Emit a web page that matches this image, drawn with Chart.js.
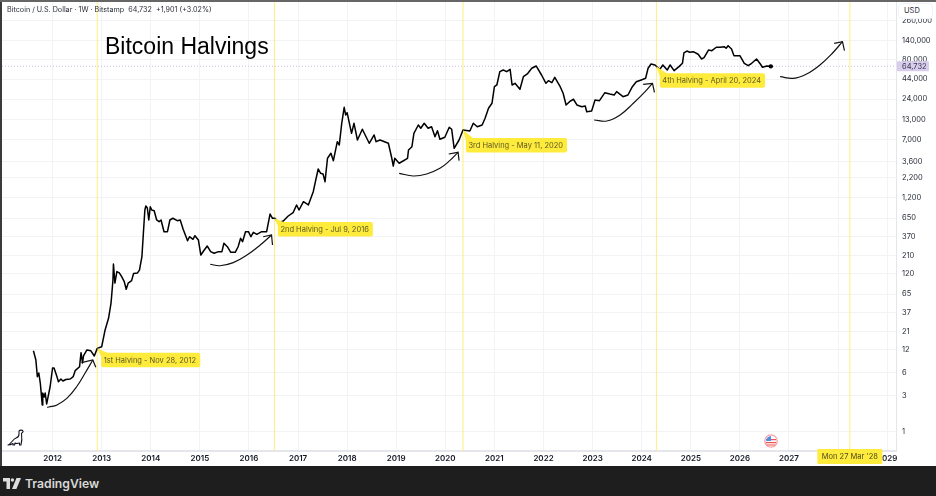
<!DOCTYPE html>
<html><head><meta charset="utf-8">
<script src="https://cdn.jsdelivr.net/npm/chart.js@4"></script>
<style>
html,body{margin:0;padding:0;background:#fff;width:936px;height:496px;overflow:hidden}
#wrap{position:relative;width:936px;height:496px;font-family:Inter,"Liberation Sans",sans-serif;filter:blur(0.3px)}
canvas{position:absolute;left:0;top:0}
.ov{position:absolute;white-space:nowrap}
#footer{position:absolute;left:0;top:466px;width:936px;height:30px;background:#1e1e1e}
#edgeL{position:absolute;left:0;top:0;width:2px;height:466px;background:#3a3a3a}
#edgeT{position:absolute;left:0;top:0;width:936px;height:2px;background:#666}
</style></head><body>
<div id="wrap">
<canvas id="c" width="936" height="496"></canvas>
<div id="edgeL"></div><div id="edgeT"></div>
<div class="ov" style="left:7px;top:5px;font-size:7.2px;line-height:10px;color:#2a2e39">Bitcoin / U.S. Dollar · 1W · Bitstamp&nbsp; 64,732&nbsp; +1,901 (+3.02%)</div>
<div class="ov" style="left:105px;top:33px;font-family:'Liberation Sans',sans-serif;font-size:23px;line-height:27px;color:#000">Bitcoin Halvings</div>
<div class="ov" style="left:898px;top:3px;width:35px;height:16px;box-sizing:border-box;background:#fff;border:1px solid #f0f3fa;border-radius:4px;font-size:7.5px;line-height:14px;padding-left:5px;color:#2a2e39">USD</div>
<svg class="ov" style="left:6px;top:428px" width="20" height="20" viewBox="0 0 20 20" fill="none" stroke="#131722" stroke-width="1.1" stroke-linejoin="round" stroke-linecap="round">
<path d="M2 17 C5 16 7 11 10 10 C12 9.5 13 9 13 6 L13 3.5 C13 2 16 1.6 17 3 C17.5 4 16 5 15.5 5.2 C16 9 16 13 15 17 L13.5 17 L13.5 15 C12 15.5 10 15.5 9 15 L8.5 17 L7 17 L7 15.5 C5 16.6 3.5 17 2 17 Z"/></svg>
<svg class="ov" style="left:764px;top:434px" width="14" height="14" viewBox="0 0 14 14">
<circle cx="7" cy="7" r="6.2" fill="#fff" stroke="#f7a0a8" stroke-width="1.3"/>
<path d="M2 5 h10 v1.2 h-10z M2 8 h10 v1.2 h-10z M3 10.5 h8 v1 h-8z" fill="#ef5350"/>
<path d="M7 2 A5 5 0 0 0 2.2 7 L7 7 Z" fill="#4a90e2"/></svg>
<div id="footer"></div>
<svg class="ov" style="left:3px;top:478px" width="18" height="11" viewBox="0 0 18 11" fill="#ddd">
<path d="M0 0 H7 V11 H3.5 V3.6 H0 Z"/><circle cx="9.4" cy="2" r="1.7"/><path d="M13.5 0 H18 L13.4 11 H9 Z"/></svg>
<div class="ov" style="left:25px;top:475px;font-size:12.2px;line-height:18px;font-weight:600;color:#d8d8d8">TradingView</div>
</div>
<script>
const years=[2011.61,2011.66,2011.69,2011.72,2011.75,2011.79,2011.80,2011.83,2011.85,2011.88,2011.95,2012.00,2012.03,2012.09,2012.12,2012.17,2012.21,2012.27,2012.36,2012.42,2012.46,2012.55,2012.58,2012.61,2012.63,2012.70,2012.78,2012.85,2012.91,2013.00,2013.07,2013.14,2013.19,2013.20,2013.23,2013.24,2013.27,2013.31,2013.36,2013.41,2013.46,2013.50,2013.54,2013.61,2013.65,2013.73,2013.77,2013.82,2013.85,2013.88,2013.90,2013.93,2013.96,2013.99,2014.02,2014.07,2014.12,2014.17,2014.21,2014.27,2014.34,2014.39,2014.45,2014.54,2014.60,2014.66,2014.75,2014.79,2014.86,2014.90,2014.97,2015.02,2015.09,2015.15,2015.22,2015.29,2015.38,2015.45,2015.49,2015.56,2015.63,2015.72,2015.78,2015.83,2015.87,2015.93,2015.99,2016.04,2016.09,2016.16,2016.26,2016.36,2016.43,2016.48,2016.53,2016.60,2016.70,2016.80,2016.90,2016.97,2017.02,2017.11,2017.21,2017.31,2017.41,2017.46,2017.51,2017.55,2017.60,2017.67,2017.72,2017.80,2017.84,2017.89,2017.94,2017.97,2018.00,2018.09,2018.14,2018.21,2018.31,2018.45,2018.55,2018.59,2018.67,2018.84,2018.91,2018.94,2018.97,2019.06,2019.23,2019.25,2019.32,2019.36,2019.45,2019.50,2019.57,2019.65,2019.72,2019.79,2019.84,2019.89,2019.99,2020.08,2020.13,2020.18,2020.28,2020.36,2020.50,2020.57,2020.65,2020.75,2020.81,2020.88,2020.95,2021.00,2021.05,2021.11,2021.18,2021.25,2021.32,2021.36,2021.42,2021.52,2021.59,2021.67,2021.76,2021.85,2021.96,2022.05,2022.10,2022.17,2022.23,2022.34,2022.40,2022.46,2022.53,2022.61,2022.68,2022.78,2022.85,2022.88,2022.98,2023.05,2023.14,2023.25,2023.35,2023.44,2023.49,2023.62,2023.72,2023.81,2023.89,2023.99,2024.08,2024.13,2024.19,2024.27,2024.37,2024.43,2024.52,2024.58,2024.66,2024.76,2024.83,2024.86,2024.92,2024.98,2025.05,2025.15,2025.22,2025.27,2025.36,2025.43,2025.52,2025.60,2025.68,2025.72,2025.76,2025.83,2025.88,2026.00,2026.09,2026.17,2026.24,2026.34,2026.42,2026.46,2026.55,2026.63];
const prices=[11.7,8.86,5.34,5.97,4.41,2.27,3.26,2.89,3.26,2.34,3.94,6.95,6.95,5.34,4.59,4.98,4.69,4.91,4.98,5.34,6.41,7.23,11.05,8.09,10,12,11.7,10,12.6,13.2,22,31.3,49.4,58,100,162,91,129,124,110,95,75.5,91,98,122,124,135,203,415,834,941,886,616,921,834,816,616,585,616,432,432,616,649,603,616,465,329,371,343,383,336,213,248,280,236,225,236,236,304,274,231,231,274,354,319,432,432,371,424,399,432,432,738,649,649,568,597,695,769,970,834,1072,970,1452,2889,2535,2483,1965,3993,4645,3715,6607,5970,11530,18710,14830,15890,8511,11530,6950,9616,6295,8090,6607,6950,6295,3993,3162,3993,3436,3993,5136,5675,8511,10950,9908,11530,9908,10400,7691,9204,7096,7551,10210,9616,5408,6950,9419,9141,11530,10400,10950,13420,18160,21130,34930,36810,55080,57940,55080,59160,36810,38730,32290,47320,51400,61090,65460,49800,38730,41880,39450,46450,34930,28640,20090,22180,23880,20090,19070,19470,16370,16750,23350,22860,29130,28000,27180,30060,25820,27180,34930,40640,42850,45080,61090,69500,67450,59160,67450,57940,67450,56750,64120,71000,97000,103000,99100,100900,93300,80900,84100,106000,104000,115400,115400,117500,111900,121000,109500,89400,89400,71000,66070,71000,80900,68900,62950,65460,64732];
const lastPrice=64732;
const priceTicks=[260000,140000,80000,44000,24000,13000,7000,3600,2200,1200,650,370,210,120,65,37,21,12,6,3,1];
const yearTicks=[2012,2013,2014,2015,2016,2017,2018,2019,2020,2021,2022,2023,2024,2025,2026,2027,2028,2029];
const halvingYears=[2012.91,2016.52,2020.36,2024.30];
const projectedYear=2028.24;
const halvingTexts=["1st Halving - Nov 28, 2012","2nd Halving - Jul 9, 2016","3rd Halving - May 11, 2020","4th Halving - April 20, 2024"];
const calloutYears=[2012.99,2016.59,2020.42,2024.37];
const calloutPrices=[11.05,579,7380,52480];
const tailPrices=[12.6,649,9419,65000];
const dateTag="Mon 27 Mar '28";
const arrowYears=[
 [2011.89,2011.98,2012.09,2012.29,2012.49,2012.66,2012.82],
 [2015.21,2015.41,2015.68,2015.96,2016.23,2016.46],
 [2019.06,2019.35,2019.62,2019.89,2020.09,2020.26],
 [2023.03,2023.29,2023.56,2023.83,2024.07,2024.22],
 [2026.82,2027.09,2027.36,2027.63,2027.87,2028.09]];
const arrowPrices=[
 [2.11,2.17,2.27,2.77,3.94,5.92,8.86],
 [161,154,169,213,289,391],
 [2535,2335,2483,2951,3715,4786],
 [12740,12360,14830,21130,30060,38730],
 [47320,45080,51400,67450,94200,136700]];
const headYears=[[2012.59,2012.82,2012.88],[2016.29,2016.46,2016.48],[2020.07,2020.26,2020.28],[2024.03,2024.22,2024.26],[2027.92,2028.09,2028.13]];
const headPrices=[[8.17,8.86,7.1],[371,391,289],[4550,4786,3715],[37580,38730,29510],[130100,136700,104000]];
const xMin=2010.97,xMax=2029.18,yMin=0.5623,yMax=454700;

const toXY=(xs,ys)=>xs.map((x,i)=>({x,y:ys[i]}));
const noPad=s=>{s.paddingTop=0;s.paddingBottom=0;s.paddingLeft=0;s.paddingRight=0};
const datasets=[];
datasets.push({data:toXY([xMin,xMax],[lastPrice,lastPrice]),borderColor:'#c9c4e4',borderWidth:1,borderDash:[1,2],pointRadius:0,order:5});
[...halvingYears,projectedYear].forEach(h=>datasets.push({data:toXY([h,h],[yMin,yMax]),borderColor:'#ffee80',borderWidth:1,pointRadius:0,order:4}));
datasets.push({data:toXY(years,prices),borderColor:'#000',borderWidth:1.5,pointRadius:c=>c.dataIndex===years.length-1?2.2:0,pointBackgroundColor:'#000',pointBorderWidth:0,tension:0,borderJoinStyle:'round',order:1});
arrowYears.forEach((a,i)=>{
 datasets.push({data:toXY(a,arrowPrices[i]),borderColor:'#111',borderWidth:1.2,pointRadius:0,tension:0.4,order:2});
 datasets.push({data:toXY(headYears[i],headPrices[i]),borderColor:'#111',borderWidth:1.2,pointRadius:0,tension:0,order:2});
});
const overlay={id:'overlay',afterDraw(ch){
 const g=ch.ctx,X=ch.scales.x,Y=ch.scales.y;
 g.save();
 g.font='7.5px Inter,sans-serif';g.textBaseline='middle';g.textAlign='left';
 halvingTexts.forEach((t,i)=>{
  const l=X.getPixelForValue(calloutYears[i]),top=Y.getPixelForValue(calloutPrices[i]);
  const w=g.measureText(t).width+6.5,h=14.5;
  g.fillStyle='#ffeb3b';
  g.beginPath();g.roundRect(l,top,w,h,2);g.fill();
  g.beginPath();g.moveTo(X.getPixelForValue(halvingYears[i]),Y.getPixelForValue(tailPrices[i]));g.lineTo(l+8,top+1);g.lineTo(l+1,top+6);g.closePath();g.fill();
  g.fillStyle='#5d5a26';
  g.fillText(t,l+2.5,top+h/2+0.5);
 });
 const py=Y.getPixelForValue(lastPrice),ax=ch.chartArea.right+1;
 g.fillStyle='#d9cdee';g.beginPath();g.roundRect(ax,py-5,32,10,1);g.fill();
 g.fillStyle='#3a3a4a';g.fillText(lastPrice.toLocaleString('en-US'),ax+5,py+0.5);
 const tx=X.getPixelForValue(projectedYear);
 g.fillStyle='#ffeb3b';g.beginPath();g.roundRect(tx-32.5,449,65,15,1);g.fill();
 g.fillStyle='#4f4b1c';g.textAlign='center';g.fillText(dateTag,tx,457);
 g.restore();
}};
new Chart(document.getElementById('c'),{type:'line',data:{datasets},plugins:[overlay],options:{
 responsive:false,animation:false,devicePixelRatio:1,
 layout:{autoPadding:false,padding:{left:2,top:2,right:0,bottom:30}},
 plugins:{legend:{display:false},tooltip:{enabled:false},title:{display:false}},
 scales:{
  x:{type:'linear',min:xMin,max:xMax,
   afterBuildTicks:s=>{s.ticks=yearTicks.map(v=>({value:v}))},
   afterFit:s=>{s.height=15;noPad(s)},
   grid:{color:'#f2f3f7',lineWidth:1,drawTicks:false},
   border:{color:'#e4e6ec',width:2},
   ticks:{autoSkip:false,maxRotation:0,padding:3,color:'#131722',font:{family:'Inter',size:8,weight:'600'},callback:v=>String(v)}},
  y:{type:'logarithmic',position:'right',min:yMin,max:yMax,
   afterBuildTicks:s=>{s.ticks=priceTicks.map(v=>({value:v}))},
   afterFit:s=>{s.width=40;noPad(s)},
   grid:{color:'#f2f3f7',lineWidth:1,drawTicks:false},
   border:{color:'#e4e6ec',width:1},
   ticks:{autoSkip:false,padding:6,crossAlign:'near',color:'#2a2e39',font:{family:'Inter',size:7.5},callback:v=>Number(v).toLocaleString('en-US')}}
 }}});
</script>
</body></html>
